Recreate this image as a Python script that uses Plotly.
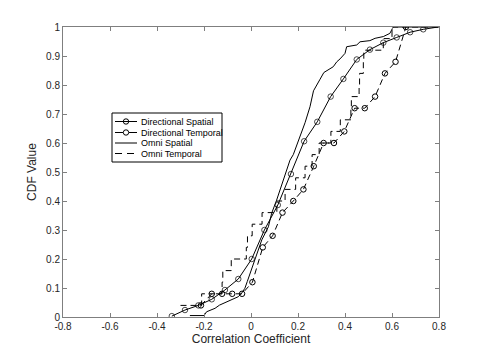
import plotly.graph_objects as go

# ---- data ----
# Directional Spatial (grid-sampled CDF, circle markers)
ds_x = [-0.337, -0.281, -0.224, -0.167, -0.111, -0.054, 0.003, 0.057, 0.114, 0.170,
        0.226, 0.282, 0.339, 0.393, 0.450, 0.506, 0.563, 0.620, 0.677, 0.733, 0.796]
ds_y = [0.003, 0.024, 0.040, 0.061, 0.093, 0.131, 0.200, 0.300, 0.386, 0.493,
        0.606, 0.673, 0.760, 0.821, 0.888, 0.922, 0.946, 0.964, 0.982, 0.992, 1.000]

# Directional Temporal (grid-sampled CDF, circle markers, dashed)
dt_x = [-0.213, -0.167, -0.123, -0.080, -0.038, 0.006, 0.050, 0.092, 0.134, 0.180,
        0.223, 0.267, 0.309, 0.353, 0.397, 0.441, 0.484, 0.528, 0.570, 0.615, 0.659]
dt_y = [0.04, 0.08, 0.08, 0.08, 0.08, 0.12, 0.24, 0.28, 0.36, 0.40,
        0.44, 0.52, 0.60, 0.60, 0.64, 0.72, 0.72, 0.76, 0.84, 0.88, 1.00]

# Omni Spatial (solid line)
os_x = [-0.260, -0.200, -0.189, -0.153, -0.134, -0.103, -0.082, -0.054, -0.040, -0.026,
        -0.016, -0.004, 0.010, 0.024, 0.046, 0.074, 0.088, 0.109, 0.123, 0.137,
        0.152, 0.166, 0.180, 0.209, 0.230, 0.251, 0.266, 0.294, 0.310, 0.350,
        0.365, 0.379, 0.400, 0.407, 0.450, 0.464, 0.506, 0.528, 0.563, 0.591,
        0.600, 0.605, 0.800]
os_y = [0.005, 0.005, 0.018, 0.030, 0.041, 0.053, 0.059, 0.070, 0.082, 0.099,
        0.122, 0.151, 0.179, 0.215, 0.266, 0.311, 0.358, 0.403, 0.438, 0.472,
        0.507, 0.541, 0.560, 0.620, 0.670, 0.725, 0.780, 0.820, 0.843, 0.863,
        0.880, 0.890, 0.909, 0.932, 0.938, 0.949, 0.953, 0.961, 0.967, 0.978,
        0.990, 1.000, 1.000]

# Omni Temporal (empirical CDF, dashed staircase): jump positions and levels
ot_x = [-0.300, -0.210, -0.123, -0.120, -0.084, -0.020, -0.015, 0.005, 0.047, 0.110,
        0.145, 0.190, 0.230, 0.260, 0.290, 0.340, 0.380, 0.425, 0.427, 0.460,
        0.462, 0.478, 0.480, 0.563, 0.600, 0.800]
ot_y = [0.04, 0.08, 0.12, 0.16, 0.20, 0.24, 0.28, 0.32, 0.36, 0.40,
        0.44, 0.48, 0.52, 0.56, 0.60, 0.64, 0.68, 0.72, 0.76, 0.80,
        0.84, 0.88, 0.92, 0.96, 1.00, 1.00]

x_ticks = [-0.8, -0.6, -0.4, -0.2, 0, 0.2, 0.4, 0.6, 0.8]
x_tick_text = ["-0.8", "-0.6", "-0.4", "-0.2", "0", "0.2", "0.4", "0.6", "0.8"]
y_ticks = [0, 0.1, 0.2, 0.3, 0.4, 0.5, 0.6, 0.7, 0.8, 0.9, 1]
y_tick_text = ["0", "0.1", "0.2", "0.3", "0.4", "0.5", "0.6", "0.7", "0.8", "0.9", "1"]

names = ["Directional Spatial", "Directional Temporal", "Omni Spatial", "Omni Temporal"]

# ---- figure ----
W, H = 485, 357
ML, MR, MT, MB = 63, 46, 27, 40
PW, PH = W - ML - MR, H - MT - MB
DASH = "6px,4px"
INK = "#000000"

fig = go.Figure()

fig.add_trace(go.Scatter(
    x=ot_x, y=ot_y, name=names[3], mode="lines", line_shape="hv",
    line=dict(color=INK, width=1, dash=DASH)))

fig.add_trace(go.Scatter(
    x=os_x, y=os_y, name=names[2], mode="lines",
    line=dict(color=INK, width=1)))

fig.add_trace(go.Scatter(
    x=dt_x, y=dt_y, name=names[1], mode="lines+markers",
    line=dict(color=INK, width=1, dash=DASH),
    marker=dict(symbol="circle-open", size=5.5, color=INK, line=dict(width=1, color=INK))))

ds_sizes = [5.5] * (len(ds_x) - 1) + [0]
fig.add_trace(go.Scatter(
    x=ds_x, y=ds_y, name=names[0], mode="lines+markers",
    line=dict(color=INK, width=1),
    marker=dict(symbol="circle-open", size=ds_sizes, color=INK, line=dict(width=1, color=INK))))

# ---- hand-drawn legend (compact, like the original) ----
def px2paper(px, py):
    return (px - ML) / PW, (H - MB - py) / PH

shapes = []
annotations = []
bx0, by0 = px2paper(112, 113)
bx1, by1 = px2paper(222, 162)
shapes.append(dict(type="rect", xref="paper", yref="paper", x0=bx0, x1=bx1, y0=by1, y1=by0,
                   line=dict(color=INK, width=1), fillcolor="white", layer="above"))
rows = [121.5, 132.5, 143.0, 153.5]
lx0, lx1, lxm = 115, 137, 126
r = 2.7
for i, ry in enumerate(rows):
    if i == 0:
        a, b = px2paper(lx0, ry); c, d = px2paper(lx1, ry)
        shapes.append(dict(type="line", xref="paper", yref="paper", x0=a, y0=b, x1=c, y1=d,
                           line=dict(color=INK, width=1), layer="above"))
        a, b = px2paper(lxm - r, ry - r); c, d = px2paper(lxm + r, ry + r)
        shapes.append(dict(type="circle", xref="paper", yref="paper", x0=a, y0=d, x1=c, y1=b,
                           line=dict(color=INK, width=1), layer="above"))
    elif i == 1:
        for s0, s1 in [(lx0, lxm - r), (lxm + r, lx1)]:
            a, b = px2paper(s0, ry); c, d = px2paper(s1, ry)
            shapes.append(dict(type="line", xref="paper", yref="paper", x0=a, y0=b, x1=c, y1=d,
                               line=dict(color=INK, width=1), layer="above"))
        a, b = px2paper(lxm - r, ry - r); c, d = px2paper(lxm + r, ry + r)
        shapes.append(dict(type="circle", xref="paper", yref="paper", x0=a, y0=d, x1=c, y1=b,
                           line=dict(color=INK, width=1), fillcolor="white", layer="above"))
    elif i == 2:
        a, b = px2paper(lx0, ry); c, d = px2paper(lx1, ry)
        shapes.append(dict(type="line", xref="paper", yref="paper", x0=a, y0=b, x1=c, y1=d,
                           line=dict(color=INK, width=1), layer="above"))
    else:
        for s0, s1 in [(lx0, lx0 + 7), (lx0 + 12, lx0 + 19)]:
            a, b = px2paper(s0, ry); c, d = px2paper(s1, ry)
            shapes.append(dict(type="line", xref="paper", yref="paper", x0=a, y0=b, x1=c, y1=d,
                               line=dict(color=INK, width=1), layer="above"))
    tx, ty = px2paper(139, ry)
    annotations.append(dict(text=names[i], xref="paper", yref="paper", x=tx, y=ty,
                            xanchor="left", yanchor="middle", showarrow=False,
                            font=dict(size=9, color=INK,
                                      family="Liberation Sans, Arial, sans-serif")))

AX = "#7f7f7f"
fig.update_layout(
    width=W, height=H,
    margin=dict(l=ML, r=MR, t=MT, b=MB),
    paper_bgcolor="white", plot_bgcolor="white",
    showlegend=False,
    font=dict(family="Liberation Sans, Arial, sans-serif", size=10, color="#262626"),
    shapes=shapes, annotations=annotations,
    xaxis=dict(range=[-0.8, 0.8], tickvals=x_ticks, ticktext=x_tick_text,
               ticks="inside", ticklen=4, tickcolor=AX, mirror="allticks",
               showline=True, linecolor=AX, linewidth=1, showgrid=False, zeroline=False,
               tickfont=dict(size=10),
               title=dict(text="Correlation Coefficient", font=dict(size=12), standoff=1)),
    yaxis=dict(range=[0, 1], tickvals=y_ticks, ticktext=y_tick_text,
               ticks="inside", ticklen=4, tickcolor=AX, mirror="allticks",
               showline=True, linecolor=AX, linewidth=1, showgrid=False, zeroline=False,
               tickfont=dict(size=10),
               title=dict(text="CDF Value", font=dict(size=12), standoff=6)),
)

fig.write_html("out.html", config={"displayModeBar": False},
               post_script="document.body.style.margin='0';")
